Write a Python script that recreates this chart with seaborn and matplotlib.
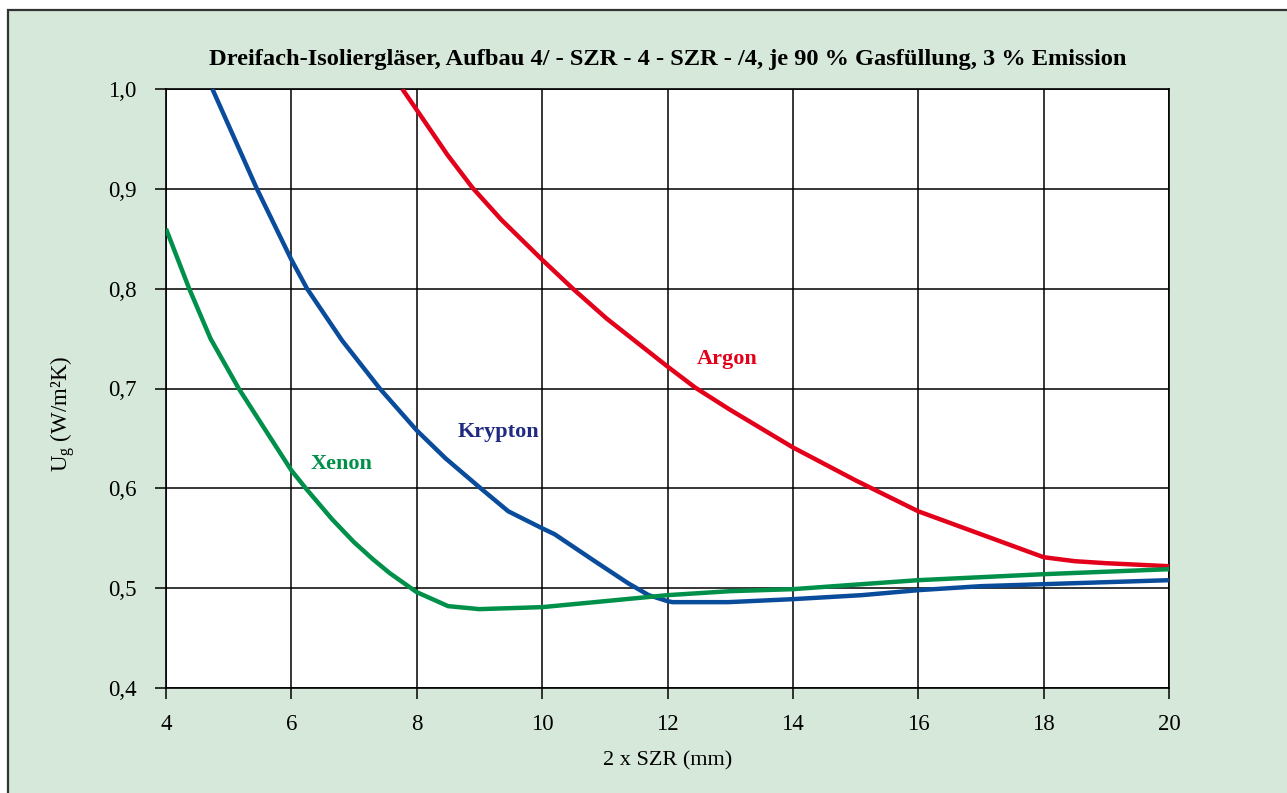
import matplotlib
matplotlib.use("Agg")
import matplotlib.pyplot as plt
import matplotlib.patches as mpatches
import seaborn as sns
import pandas as pd

# ---- data ----
argon_x = [7.77, 8.0, 8.49, 8.89, 9.35, 10.0, 10.49, 11.03, 12.0, 12.44, 12.99, 14.0, 15.0, 16.0, 17.0, 18.0, 18.5, 19.0, 20.0]
argon_y = [1.0, 0.979, 0.934, 0.901, 0.869, 0.829, 0.8, 0.770, 0.722, 0.701, 0.679, 0.641, 0.608, 0.577, 0.554, 0.531, 0.527, 0.525, 0.522]

krypton_x = [4.74, 5.45, 6.0, 6.25, 6.81, 7.41, 8.0, 8.46, 9.02, 9.46, 10.0, 10.2, 10.84, 11.37, 11.7, 12.0, 12.08, 12.97, 14.0, 15.1, 16.0, 17.0, 18.0, 20.0]
krypton_y = [1.0, 0.9, 0.829, 0.8, 0.748, 0.7, 0.658, 0.630, 0.6, 0.577, 0.560, 0.554, 0.527, 0.505, 0.493, 0.487, 0.486, 0.486, 0.489, 0.493, 0.498, 0.502, 0.504, 0.508]

xenon_x = [4.0, 4.37, 4.71, 5.16, 5.60, 6.0, 6.23, 6.65, 7.0, 7.3, 7.57, 8.0, 8.5, 9.0, 10.0, 10.84, 12.0, 13.0, 14.0, 15.1, 16.0, 18.0, 20.0]
xenon_y = [0.860, 0.8, 0.750, 0.7, 0.657, 0.618, 0.6, 0.569, 0.546, 0.529, 0.515, 0.496, 0.482, 0.479, 0.481, 0.486, 0.493, 0.497, 0.499, 0.504, 0.508, 0.514, 0.519]

series_names = ["Argon", "Krypton", "Xenon"]
x_ticks = [4, 6, 8, 10, 12, 14, 16, 18, 20]
y_ticks = [0.4, 0.5, 0.6, 0.7, 0.8, 0.9, 1.0]
y_tick_labels = ["0,4", "0,5", "0,6", "0,7", "0,8", "0,9", "1,0"]

title = "Dreifach-Isoliergläser, Aufbau 4/ - SZR - 4 - SZR - /4, je 90 % Gasfüllung, 3 % Emission"
x_label = "2 x SZR (mm)"
y_label = r"U$_\mathrm{g}$ (W/m²K)"

line_colors = {"Argon": "#e3001b", "Krypton": "#0a4c9c", "Xenon": "#00904a"}
label_colors = {"Argon": "#e3001b", "Krypton": "#1f2a80", "Xenon": "#00904a"}

df = pd.concat([
    pd.DataFrame({"x": argon_x, "y": argon_y, "gas": "Argon"}),
    pd.DataFrame({"x": krypton_x, "y": krypton_y, "gas": "Krypton"}),
    pd.DataFrame({"x": xenon_x, "y": xenon_y, "gas": "Xenon"}),
])

sns.set_theme(style="white")
plt.rcParams["font.family"] = ["Liberation Serif", "DejaVu Serif"]
plt.rcParams["mathtext.fontset"] = "custom"
plt.rcParams["mathtext.rm"] = "Liberation Serif"
plt.rcParams["mathtext.it"] = "Liberation Serif:italic"
plt.rcParams["mathtext.bf"] = "Liberation Serif:bold"

W, H = 1287, 793
fig = plt.figure(figsize=(W / 100, H / 100), dpi=100, facecolor="white")

# outer green panel
bg = mpatches.Rectangle((8 / W, -0.05), 1.1, 1 - 10 / H + 0.05, transform=fig.transFigure,
                        facecolor="#d5e8d9", edgecolor="#333333", linewidth=1.6, zorder=-10)
fig.patches.append(bg)

ax = fig.add_axes([166 / W, 1 - 688 / H, (1169 - 166) / W, (688 - 89) / H])
ax.set_zorder(1)
ax.set_facecolor("white")

sns.lineplot(data=df, x="x", y="y", hue="gas", palette=line_colors, linewidth=3.2,
             legend=False, ax=ax, sort=True, estimator=None, zorder=3)
for l in ax.lines:
    l.set_solid_joinstyle("round")
    l.set_solid_capstyle("butt")

ax.set_xlim(4, 20)
ax.set_ylim(0.4, 1.0)
ax.set_xticks(x_ticks)
ax.set_xticklabels([str(t) for t in x_ticks])
ax.set_yticks(y_ticks)
ax.set_yticklabels(y_tick_labels)
ax.grid(True, color="black", linewidth=1.1)
ax.set_axisbelow(True)
for s in ax.spines.values():
    s.set_visible(True)
    s.set_color("black")
    s.set_linewidth(1.2)
ax.tick_params(axis="both", which="major", bottom=True, left=True, top=False, right=False,
               direction="out", length=8, width=1.1, color="black",
               labelsize=16.5, labelcolor="black")
ax.tick_params(axis="y", pad=13)
ax.tick_params(axis="x", pad=11)

ax.set_xlabel(x_label, fontsize=16, color="black")
ax.xaxis.set_label_coords(0.5, -0.106)
ax.set_ylabel(y_label, fontsize=16.5, color="black")
ax.yaxis.set_label_coords(-0.089, 0.457)

fig.text((166 + 1169) / 2 / W, 1 - 60 / H, title, ha="center", va="center",
         fontsize=17.6, fontweight="bold", color="black")

# series labels
ax.text(12.95, 0.730, "Argon", color=label_colors["Argon"], fontsize=16, fontweight="bold",
        ha="center", va="center")
ax.text(9.3, 0.656, "Krypton", color=label_colors["Krypton"], fontsize=16, fontweight="bold",
        ha="center", va="center")
ax.text(6.8, 0.624, "Xenon", color=label_colors["Xenon"], fontsize=16, fontweight="bold",
        ha="center", va="center")

fig.savefig("out.png", dpi=100, facecolor="white")
